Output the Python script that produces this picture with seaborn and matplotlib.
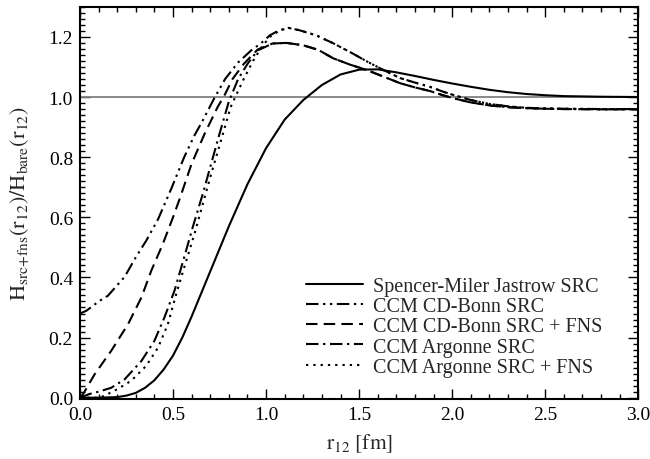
import numpy as np
import pandas as pd
import matplotlib
matplotlib.use("Agg")
import matplotlib.pyplot as plt
from matplotlib.ticker import MultipleLocator
import seaborn as sns

# Spencer-Miller Jastrow SRC
sm_r = [0.0, 0.1, 0.2, 0.25, 0.3, 0.35, 0.4, 0.45, 0.5, 0.55, 0.6, 0.7, 0.8, 0.9, 1.0, 1.1,
        1.2, 1.3, 1.4, 1.5, 1.6, 1.7, 1.8, 1.9, 2.0, 2.1, 2.2, 2.3, 2.4,
        2.5, 2.6, 2.8, 3.0]
sm_v = [0.0, 0.0, 0.002, 0.007, 0.016, 0.033, 0.058, 0.094, 0.14, 0.2, 0.27, 0.42, 0.57, 0.71, 0.83, 0.925,
        0.99, 1.04, 1.075, 1.091, 1.092, 1.082, 1.07, 1.057, 1.045, 1.034, 1.024, 1.016, 1.01,
        1.006, 1.003, 1.001, 1.0]

# CCM CD-Bonn SRC
cdb_r = [0.0, 0.034, 0.105, 0.15, 0.24, 0.30, 0.356, 0.42, 0.49, 0.56, 0.615, 0.66, 0.72, 0.78,
         0.85, 0.92, 0.975, 1.02, 1.07, 1.12, 1.18, 1.27, 1.36, 1.45, 1.54, 1.63, 1.72, 1.8,
         1.88, 1.95, 2.0, 2.1, 2.2, 2.3, 2.4, 2.5, 2.6, 2.8, 3.0]
cdb_v = [0.28, 0.289, 0.322, 0.339, 0.402, 0.467, 0.522, 0.594, 0.694, 0.80, 0.872, 0.922, 0.994, 1.06,
         1.115, 1.155, 1.18, 1.205, 1.222, 1.23, 1.222, 1.205, 1.179, 1.15, 1.119, 1.09, 1.063, 1.048,
         1.034, 1.018, 1.008, 0.99, 0.977, 0.969, 0.964, 0.962, 0.961, 0.96, 0.96]

# CCM CD-Bonn SRC + FNS
cdbf_r = [0.0, 0.016, 0.079, 0.168, 0.258, 0.33, 0.383, 0.445, 0.5, 0.535, 0.6, 0.67, 0.74, 0.776,
          0.82, 0.88, 0.955, 1.035, 1.11, 1.2, 1.28, 1.36, 1.45, 1.54, 1.63, 1.72, 1.8, 1.88,
          1.95, 2.0, 2.1, 2.2, 2.3, 2.4, 2.5, 2.6, 2.8, 3.0]
cdbf_v = [0.0, 0.011, 0.078, 0.156, 0.244, 0.333, 0.422, 0.511, 0.6, 0.66, 0.778, 0.878, 0.967, 1.005,
          1.06, 1.11, 1.158, 1.178, 1.18, 1.172, 1.157, 1.129, 1.108, 1.09, 1.068, 1.046, 1.032, 1.02,
          1.006, 0.997, 0.982, 0.972, 0.966, 0.963, 0.961, 0.96, 0.959, 0.959]

# CCM Argonne SRC
arg_r = [0.0, 0.05, 0.1, 0.168, 0.24, 0.33, 0.40, 0.454, 0.508, 0.56, 0.606, 0.66, 0.705, 0.75,
         0.8, 0.85, 0.9, 0.955, 1.035, 1.11, 1.2, 1.28, 1.36, 1.45, 1.54, 1.63, 1.72, 1.8, 1.88,
         1.95, 2.0, 2.1, 2.2, 2.3, 2.4, 2.5, 2.6, 2.8, 3.0]
arg_v = [0.0, 0.012, 0.02, 0.033, 0.061, 0.122, 0.189, 0.267, 0.356, 0.467, 0.567, 0.678, 0.778, 0.878,
         0.985, 1.06, 1.11, 1.155, 1.178, 1.18, 1.172, 1.157, 1.129, 1.108, 1.09, 1.068, 1.046, 1.032, 1.02,
         1.006, 0.997, 0.982, 0.972, 0.966, 0.963, 0.961, 0.96, 0.959, 0.959]

# CCM Argonne SRC + FNS
argf_r = [0.0, 0.1, 0.13, 0.2, 0.275, 0.356, 0.42, 0.472, 0.517, 0.56, 0.615, 0.66, 0.705, 0.758,
          0.81, 0.83, 0.88, 0.93, 0.975, 1.02, 1.07, 1.12, 1.18, 1.27, 1.36, 1.45, 1.54, 1.63,
          1.72, 1.8, 1.88, 1.95, 2.0, 2.1, 2.2, 2.3, 2.4, 2.5, 2.6, 2.8, 3.0]
argf_v = [0.0, 0.0, 0.006, 0.028, 0.056, 0.106, 0.167, 0.244, 0.344, 0.433, 0.544, 0.644, 0.744, 0.856,
          0.967, 0.994, 1.06, 1.12, 1.165, 1.2, 1.22, 1.23, 1.222, 1.205, 1.179, 1.15, 1.119, 1.09,
          1.063, 1.048, 1.034, 1.018, 1.008, 0.99, 0.977, 0.969, 0.964, 0.962, 0.961, 0.96, 0.96]

labels = ['Spencer-Miler Jastrow SRC', 'CCM CD-Bonn SRC', 'CCM CD-Bonn SRC + FNS',
          'CCM Argonne SRC', 'CCM Argonne SRC + FNS']

sns.set_style("ticks")
plt.rcParams['font.family'] = ['Liberation Serif', 'DejaVu Serif']
plt.rcParams['mathtext.fontset'] = 'stix'

series = [(sm_r, sm_v, '-'),
          (cdb_r, cdb_v, (0, (6, 2.2, 1.1, 2.2, 1.1, 2.2))),
          (cdbf_r, cdbf_v, (0, (5.5, 3))),
          (arg_r, arg_v, (0, (6, 2.2, 1.1, 2.2))),
          (argf_r, argf_v, (0, (1.1, 2.4)))]

fig = plt.figure(figsize=(6.5, 4.6), dpi=100)
ax = fig.add_axes([0.123, 0.130, 0.859, 0.853])

ax.axhline(1.0, color='#808080', lw=1.3, zorder=1)

for (r, v, ls), lab in zip(series, labels):
    df = pd.DataFrame({'r': r, 'v': v})
    sns.lineplot(data=df, x='r', y='v', ax=ax, color='black', lw=1.5,
                 linestyle=ls, label=lab, errorbar=None)

ax.set_xlim(0, 3.0)
ax.set_ylim(-0.005, 1.3)
ax.xaxis.set_major_locator(MultipleLocator(0.5))
ax.xaxis.set_minor_locator(MultipleLocator(0.1))
ax.yaxis.set_major_locator(MultipleLocator(0.2))
ax.yaxis.set_minor_locator(MultipleLocator(0.02))
ax.xaxis.set_major_formatter(plt.FormatStrFormatter('%.1f'))
ax.yaxis.set_major_formatter(plt.FormatStrFormatter('%.1f'))
ax.tick_params(which='both', direction='in', top=True, right=True, width=1.0,
               labelsize=14, colors='black')
ax.tick_params(which='major', length=7, pad=5)
ax.tick_params(which='minor', length=3.5)
for s in ax.spines.values():
    s.set_linewidth(1.5)
    s.set_color('black')

ax.set_xlabel(r'$\mathrm{r_{12}\ [fm]}$', fontsize=15.5, labelpad=6)
ax.set_ylabel(r'$\mathrm{H_{src{+}fns}(r_{12})/H_{bare}(r_{12})}$', fontsize=16, labelpad=12)

ax.legend(loc='lower right', bbox_to_anchor=(0.935, 0.057), frameon=False, fontsize=14.5,
          handlelength=2.8, handletextpad=0.5, labelspacing=0.06, borderaxespad=0, borderpad=0)

fig.savefig('out.png', dpi=100)
